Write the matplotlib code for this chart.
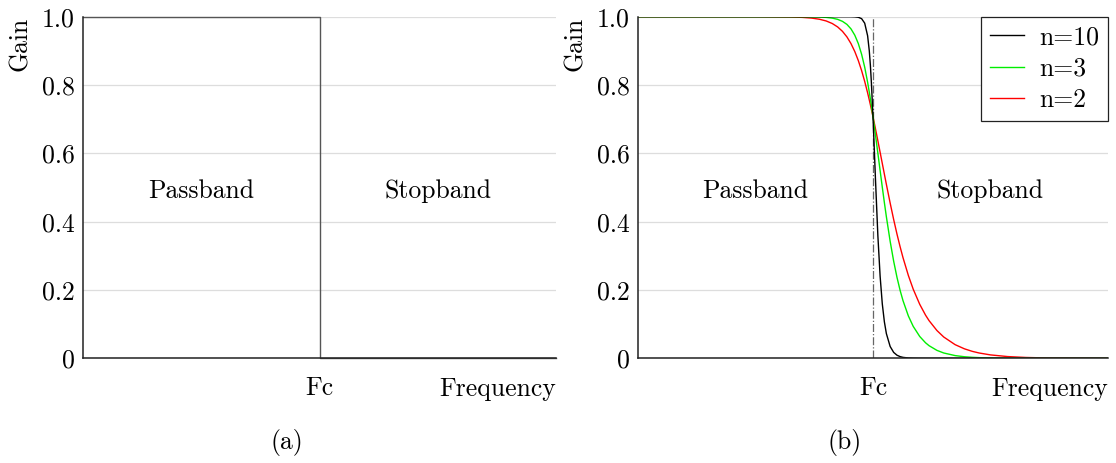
import numpy as np
import matplotlib.pyplot as plt
from matplotlib.transforms import ScaledTranslation

plt.rcParams['font.family'] = 'serif'
plt.rcParams['font.serif'] = ['cmr10']
plt.rcParams['axes.formatter.use_mathtext'] = True
plt.rcParams['mathtext.fontset'] = 'cm'

# ideal low-pass (panel a)
ideal_freq = [0.01, 1.0, 1.0, 100.0]
ideal_gain = [1.0, 1.0, 0.0, 0.0]

# gain, frequency relative to Fc
freq = [0.01, 0.1, 0.2, 0.25, 0.3, 0.35, 0.4, 0.45, 0.5, 0.55, 0.6, 0.65, 0.7,
        0.75, 0.8, 0.85, 0.9, 0.93, 0.95, 0.97, 1.0, 1.03, 1.05, 1.1, 1.15, 1.2,
        1.25, 1.3, 1.4, 1.5, 1.6, 1.7, 1.8, 2.0, 2.2, 2.5, 2.8, 3.0, 3.5, 4.0,
        5.0, 6.0, 7.0, 8.0, 10.0, 14.0, 20.0, 30.0, 100.0]
gain_n2 = [1.0, 1.0, 0.9992, 0.9981, 0.996, 0.9926, 0.9875, 0.9801, 0.9701,
           0.9571, 0.9409, 0.9212, 0.898, 0.8716, 0.8423, 0.8106, 0.7771, 0.7563,
           0.7424, 0.7283, 0.7071, 0.6859, 0.6718, 0.637, 0.6031, 0.5704, 0.5391,
           0.5092, 0.4545, 0.4061, 0.3638, 0.327, 0.2949, 0.2425, 0.2023, 0.158,
           0.1265, 0.1104, 0.0814, 0.0624, 0.04, 0.0278, 0.0204, 0.0156, 0.01,
           0.0051, 0.0025, 0.0011, 0.0001]
gain_n3 = [1.0, 1.0, 1.0, 0.9999, 0.9996, 0.9991, 0.998, 0.9959, 0.9923, 0.9864,
           0.9775, 0.9643, 0.9459, 0.9214, 0.8901, 0.8522, 0.8081, 0.7792, 0.7592,
           0.7386, 0.7071, 0.6751, 0.6537, 0.6007, 0.5494, 0.5009, 0.4557, 0.4143,
           0.3424, 0.2841, 0.2372, 0.1994, 0.169, 0.124, 0.0935, 0.0639, 0.0455,
           0.037, 0.0233, 0.0156, 0.008, 0.0046, 0.0029, 0.002, 0.001, 0.0004,
           0.0001, 0.0, 0.0]
gain_n10 = [1.0, 1.0, 1.0, 1.0, 1.0, 1.0, 1.0, 1.0, 1.0, 1.0, 1.0, 1.0, 0.9996,
            0.9984, 0.9943, 0.9811, 0.9442, 0.9001, 0.858, 0.8048, 0.7071, 0.597,
            0.5232, 0.3597, 0.24, 0.1594, 0.1068, 0.0723, 0.0346, 0.0173, 0.0091,
            0.005, 0.0028, 0.001, 0.0004, 0.0001, 0.0, 0.0, 0.0, 0.0, 0.0, 0.0,
            0.0, 0.0, 0.0, 0.0, 0.0, 0.0, 0.0]

series = [("n=2", gain_n2, "#ff0000"), ("n=3", gain_n3, "#00ee00"), ("n=10", gain_n10, "black")]
fc = 1.0
yticks = [0, 0.2, 0.4, 0.6, 0.8, 1.0]
ylabels = ["0", "0.2", "0.4", "0.6", "0.8", "1.0"]
FS = 18.5

fig = plt.figure(figsize=(11.16, 4.63), dpi=100)
ax_a = fig.add_axes([0.0744, 0.2261, 0.4238, 0.7378])
ax_b = fig.add_axes([0.5717, 0.2261, 0.4211, 0.7378])
shift = ScaledTranslation(5 / 100, 0, fig.dpi_scale_trans)  # Fc label sits a bit right of the line


def style(ax):
    ax.set_xscale('log')
    ax.set_xlim(0.01, 100)
    ax.set_ylim(0, 1)
    ax.set_yticks(yticks)
    ax.set_yticklabels(ylabels, fontsize=FS)
    ax.set_xticks([fc])
    ax.set_xticklabels(["Fc"], fontsize=FS)
    for lab in ax.get_xticklabels():
        lab.set_transform(lab.get_transform() + shift)
    ax.xaxis.set_minor_locator(plt.NullLocator())
    ax.tick_params(length=0)
    ax.tick_params(axis='y', pad=6)
    ax.tick_params(axis='x', pad=13)
    ax.grid(axis='y', color='#dddddd', linewidth=0.9)
    ax.set_axisbelow(True)
    for s in ['top', 'right']:
        ax.spines[s].set_visible(False)
    for s in ['left', 'bottom']:
        ax.spines[s].set_linewidth(1.1)
        ax.spines[s].set_color('#222222')
    ax.set_ylabel("Gain", fontsize=FS, loc='top', labelpad=7)
    ax.set_xlabel("Frequency", fontsize=FS, loc='right')
    ax.xaxis.set_label_coords(1.0, -0.055)
    ax.text(0.1, 0.49, "Passband", fontsize=FS, ha='center', va='center')
    ax.text(10, 0.49, "Stopband", fontsize=FS, ha='center', va='center')


style(ax_a)
ax_a.plot(ideal_freq, ideal_gain, color='#555555', linewidth=1.0, clip_on=False)

style(ax_b)
ax_b.axvline(fc, color='#666666', linestyle='-.', linewidth=0.9)
lines = {}
for name, g, c in series:
    lines[name], = ax_b.plot(freq, g, color=c, linewidth=1.0)
leg = ax_b.legend([lines["n=10"], lines["n=3"], lines["n=2"]], ["n=10", "n=3", "n=2"],
                  loc='upper right', fontsize=FS, fancybox=False, edgecolor='#222222',
                  framealpha=1, borderaxespad=0, handlelength=1.3, borderpad=0.35,
                  labelspacing=0.3, handletextpad=0.6)
leg.get_frame().set_linewidth(0.9)

fig.text(0.257, 1 - 442 / 463, "(a)", fontsize=FS, ha='center', va='center')
fig.text(0.757, 1 - 442 / 463, "(b)", fontsize=FS, ha='center', va='center')

fig.savefig("out.png", dpi=100)
